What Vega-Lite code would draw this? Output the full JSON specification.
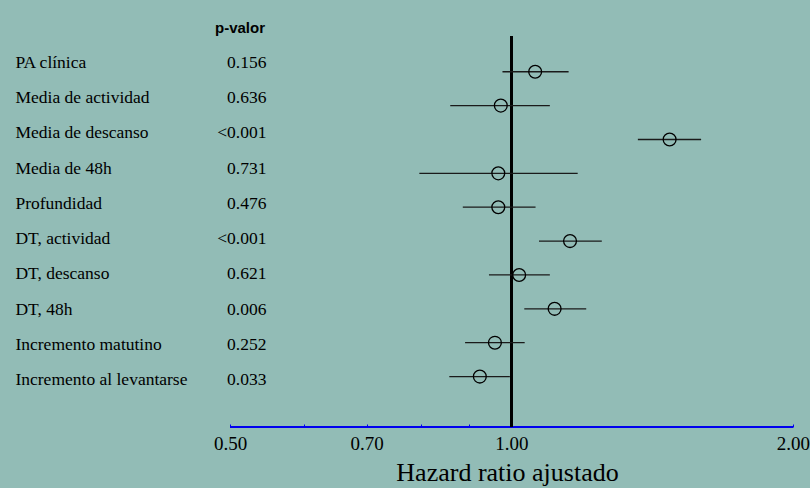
{
  "$schema": "https://vega.github.io/schema/vega-lite/v6.json",
  "width": 810,
  "height": 427,
  "autosize": {"type": "none"},
  "padding": {"left": 0, "top": 0, "right": 0, "bottom": 61},
  "background": "#92bcb6",
  "config": {
    "view": {"stroke": null},
    "axis": {"grid": false}
  },
  "data": {
    "values": [
      {"row": 1, "label": "PA clínica", "p": "0.156", "hr": 1.060, "lo": 0.978, "hi": 1.151},
      {"row": 2, "label": "Media de actividad", "p": "0.636", "hr": 0.974, "lo": 0.860, "hi": 1.099},
      {"row": 3, "label": "Media de descanso", "p": "<0.001", "hr": 1.476, "lo": 1.365, "hi": 1.595},
      {"row": 4, "label": "Media de 48h", "p": "0.731", "hr": 0.968, "lo": 0.797, "hi": 1.177},
      {"row": 5, "label": "Profundidad", "p": "0.476", "hr": 0.968, "lo": 0.887, "hi": 1.061},
      {"row": 6, "label": "DT, actividad", "p": "<0.001", "hr": 1.155, "lo": 1.070, "hi": 1.249},
      {"row": 7, "label": "DT, descanso", "p": "0.621", "hr": 1.019, "lo": 0.946, "hi": 1.099},
      {"row": 8, "label": "DT, 48h", "p": "0.006", "hr": 1.112, "lo": 1.032, "hi": 1.202},
      {"row": 9, "label": "Incremento matutino", "p": "0.252", "hr": 0.960, "lo": 0.892, "hi": 1.033},
      {"row": 10, "label": "Incremento al levantarse", "p": "0.033", "hr": 0.925, "lo": 0.858, "hi": 0.996}
    ]
  },
  "layer": [
    {
      "encoding": {
        "y": {"field": "row", "type": "quantitative", "scale": {"domain": [-0.789, 11.335], "reverse": true, "nice": false, "zero": false}, "axis": null}
      },
      "layer": [
        {
          "mark": {"type": "text", "align": "left", "baseline": "middle", "font": "Liberation Serif", "fontSize": 17.5, "color": "#000000"},
          "encoding": {
            "x": {"datum": 0.2948, "type": "quantitative", "scale": {"type": "log", "domain": [0.2838, 2.0855], "nice": false, "zero": false}},
            "text": {"field": "label"}
          }
        },
        {
          "mark": {"type": "text", "align": "right", "baseline": "middle", "font": "Liberation Serif", "fontSize": 17.5, "color": "#000000"},
          "encoding": {
            "x": {"datum": 0.547, "type": "quantitative", "scale": {"type": "log", "domain": [0.2838, 2.0855], "nice": false, "zero": false}},
            "text": {"field": "p"}
          }
        },
        {
          "transform": [{"filter": "datum.row == 1"}],
          "mark": {"type": "text", "align": "right", "baseline": "middle", "font": "Liberation Sans", "fontWeight": "bold", "fontSize": 15, "color": "#000000", "text": "p-valor"},
          "encoding": {
            "x": {"datum": 0.545, "type": "quantitative", "scale": {"type": "log", "domain": [0.2838, 2.0855], "nice": false, "zero": false}},
            "y": {"datum": 0, "type": "quantitative"}
          }
        }
      ]
    },
    {
      "encoding": {
        "y": {"field": "row", "type": "quantitative", "scale": {"domain": [-1.1184, 11.489], "reverse": true, "nice": false, "zero": false}, "axis": null}
      },
      "layer": [
        {
          "mark": {"type": "rule", "color": "#0000ee", "strokeWidth": 1.5},
          "encoding": {
            "x": {
              "datum": 0.5, "type": "quantitative",
              "scale": {"type": "log", "domain": [0.2838, 2.0855], "nice": false, "zero": false},
              "axis": {
                "values": [0.5, 0.6, 0.7, 0.8, 0.9, 1, 2],
                "labelExpr": "indexof([0.5, 0.7, 1, 2], datum.value) >= 0 ? format(datum.value, '.2f') : ''",
                "domain": false,
                "ticks": true,
                "tickColor": "#0000ee",
                "tickSize": -3,
                "tickWidth": 1,
                "labelPadding": 25,
                "labelBaseline": "alphabetic",
                "labelFont": "Liberation Serif",
                "labelFontSize": 19,
                "labelColor": "#000000",
                "labelBound": false,
                "labelFlush": false,
                "labelOverlap": false,
                "title": "Hazard ratio ajustado",
                "titleFont": "Liberation Serif",
                "titleFontSize": 26,
                "titleFontWeight": "normal",
                "titleColor": "#000000",
                "titleX": 507,
                "titleY": 53,
                "titleAlign": "center",
                "titleBaseline": "alphabetic",
                "grid": false
              }
            },
            "x2": {"datum": 2},
            "y": {"datum": 11.489, "type": "quantitative"}
          }
        },
        {
          "mark": {"type": "rule", "color": "#000000", "strokeWidth": 2.5},
          "encoding": {
            "x": {"datum": 1, "type": "quantitative"},
            "y": {"datum": -0.05, "type": "quantitative"},
            "y2": {"datum": 11.489}
          }
        },
        {
          "mark": {"type": "rule", "color": "#1a1a1a", "strokeWidth": 1.3},
          "encoding": {
            "x": {"field": "lo", "type": "quantitative"},
            "x2": {"field": "hi"}
          }
        },
        {
          "mark": {"type": "point", "shape": "circle", "filled": false, "size": 165, "stroke": "#000000", "strokeWidth": 1.3, "opacity": 1},
          "encoding": {
            "x": {"field": "hr", "type": "quantitative"}
          }
        }
      ]
    }
  ],
  "resolve": {"scale": {"y": "independent"}}
}
